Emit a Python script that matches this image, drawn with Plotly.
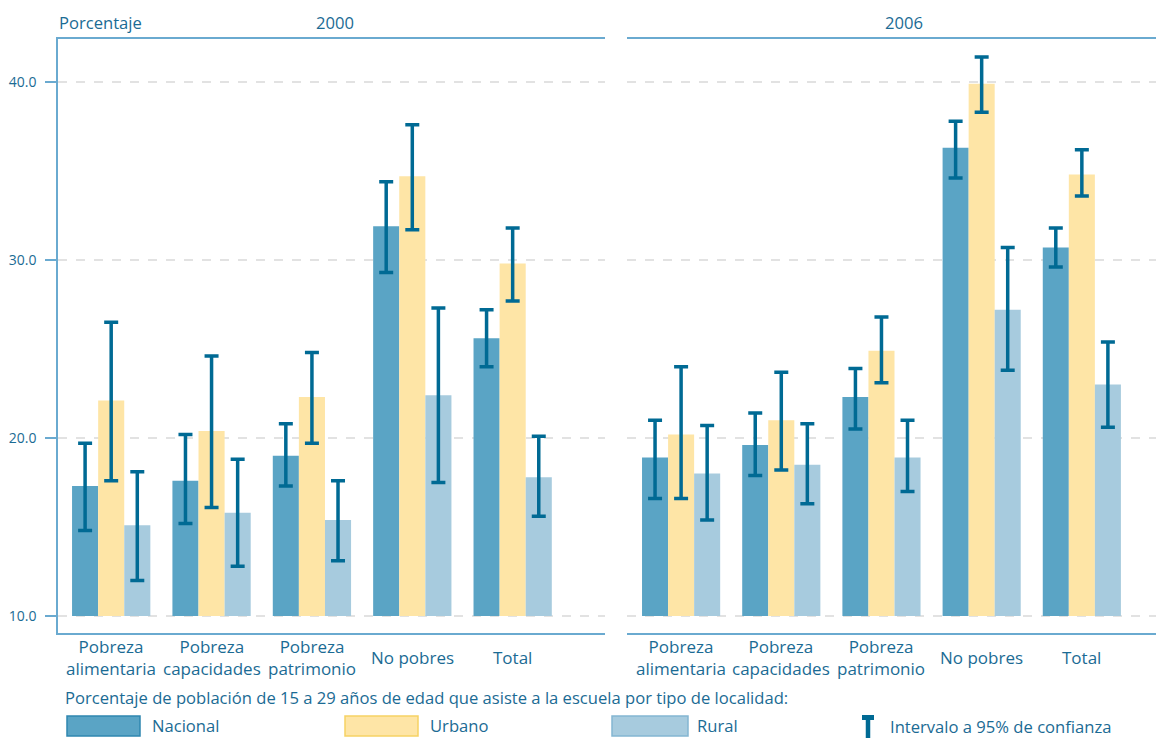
import plotly.graph_objects as go

# categorías y series (porcentaje, límites del intervalo a 95%)
CATEGORIAS = ["Pobreza<br>alimentaria", "Pobreza<br>capacidades", "Pobreza<br>patrimonio",
              "No pobres", "Total"]
PANELES = ["2000", "2006"]
SERIES = ["Nacional", "Urbano", "Rural"]

nacional_2000 = [17.3, 17.6, 19.0, 31.9, 25.6]
nacional_2000_inf = [14.8, 15.2, 17.3, 29.3, 24.0]
nacional_2000_sup = [19.7, 20.2, 20.8, 34.4, 27.2]
urbano_2000 = [22.1, 20.4, 22.3, 34.7, 29.8]
urbano_2000_inf = [17.6, 16.1, 19.7, 31.7, 27.7]
urbano_2000_sup = [26.5, 24.6, 24.8, 37.6, 31.8]
rural_2000 = [15.1, 15.8, 15.4, 22.4, 17.8]
rural_2000_inf = [12.0, 12.8, 13.1, 17.5, 15.6]
rural_2000_sup = [18.1, 18.8, 17.6, 27.3, 20.1]

nacional_2006 = [18.9, 19.6, 22.3, 36.3, 30.7]
nacional_2006_inf = [16.6, 17.9, 20.5, 34.6, 29.6]
nacional_2006_sup = [21.0, 21.4, 23.9, 37.8, 31.8]
urbano_2006 = [20.2, 21.0, 24.9, 39.9, 34.8]
urbano_2006_inf = [16.6, 18.2, 23.1, 38.3, 33.6]
urbano_2006_sup = [24.0, 23.7, 26.8, 41.4, 36.2]
rural_2006 = [18.0, 18.5, 18.9, 27.2, 23.0]
rural_2006_inf = [15.4, 16.3, 17.0, 23.8, 20.6]
rural_2006_sup = [20.7, 20.8, 21.0, 30.7, 25.4]

BASE = 10.0
TICKS_Y = [10, 20, 30, 40]

# la página deja 8 px de margen en el body: la figura se ajusta a eso
OFF = 8
W, H = 1164 - OFF, 738 - OFF
TEXTO = "#1b6b94"
EJE = "#6aaad0"
ERROR = "#006a94"
REJILLA = "#e2e2e2"
COLORES = {"Nacional": "#5aa4c5", "Urbano": "#fee5a6", "Rural": "#a7cbde"}
BORDES = {"Nacional": "#2f86b0", "Urbano": "#f6d264", "Rural": "#84b6d2"}
FUENTE = "Open Sans"


def px(x):
    return (x - OFF) / W


def py(y):
    return 1 - (y - OFF) / H


datos = {
    "2000": {
        "Nacional": (nacional_2000, nacional_2000_inf, nacional_2000_sup),
        "Urbano": (urbano_2000, urbano_2000_inf, urbano_2000_sup),
        "Rural": (rural_2000, rural_2000_inf, rural_2000_sup),
    },
    "2006": {
        "Nacional": (nacional_2006, nacional_2006_inf, nacional_2006_sup),
        "Urbano": (urbano_2006, urbano_2006_inf, urbano_2006_sup),
        "Rural": (rural_2006, rural_2006_inf, rural_2006_sup),
    },
}

fig = go.Figure()
ejes = {"2000": ("x", "y"), "2006": ("x2", "y2")}
pos = list(range(len(CATEGORIAS)))

for panel in PANELES:
    xa, ya = ejes[panel]
    for serie in SERIES:
        val, inf, sup = datos[panel][serie]
        fig.add_bar(
            x=pos, y=[v - BASE for v in val], base=BASE,
            xaxis=xa, yaxis=ya, name=serie, showlegend=False,
            marker=dict(color=COLORES[serie], line_width=0),
            error_y=dict(type="data", symmetric=False,
                         array=[s - v for s, v in zip(sup, val)],
                         arrayminus=[v - i for v, i in zip(val, inf)],
                         color=ERROR, thickness=3.5, width=7),
        )

eje_y = dict(domain=[py(633), py(39)], range=[BASE - 17 / 17.8, BASE + 577 / 17.8],
             tickvals=TICKS_Y, tickformat=".1f", showgrid=True, gridcolor=REJILLA,
             griddash="dash", gridwidth=1.5, zeroline=False,
             tickfont=dict(size=14, color=TEXTO, family=FUENTE))
eje_x = dict(showline=True, linecolor=EJE, linewidth=1.5, mirror=True,
             showticklabels=False, ticks="", showgrid=False, zeroline=False)

fig.update_layout(
    width=W, height=H,
    margin=dict(l=0, r=0, t=0, b=0),
    paper_bgcolor="white", plot_bgcolor="white",
    barmode="group", bargap=0.22, bargroupgap=0,
    font=dict(family=FUENTE, color=TEXTO),
    xaxis=dict(eje_x, domain=[px(58), px(605)], range=[-0.53, 4.92], anchor="y"),
    yaxis=dict(eje_y, anchor="x", showline=True, linecolor=EJE, linewidth=1.5,
               ticks="outside", ticklen=11, tickcolor=EJE, tickwidth=1.5,
               ticklabelstandoff=6),
    xaxis2=dict(eje_x, domain=[px(627), 1.0], range=[-0.54, 4.82], anchor="y2"),
    yaxis2=dict(eje_y, anchor="x2", showline=False, showticklabels=False, ticks=""),
)

anotaciones = []
for panel in PANELES:
    xa, _ = ejes[panel]
    for i, cat in enumerate(CATEGORIAS):
        anotaciones.append(dict(x=i, xref=xa, y=py(657), yref="paper", text=cat,
                                showarrow=False, font=dict(size=17), align="center"))

anotaciones += [
    dict(x=px(57), y=py(22), text="Porcentaje", xanchor="left"),
    dict(x=px(335), y=py(22), text="2000", xanchor="center"),
    dict(x=px(904), y=py(22), text="2006", xanchor="center"),
    dict(x=px(63), y=py(697), xanchor="left",
         text="Porcentaje de población de 15 a 29 años de edad que asiste a la escuela por tipo de localidad:"),
]

# leyenda dibujada a mano
leyenda = [("Nacional", 67, 140, 150), ("Urbano", 345, 418, 428), ("Rural", 612, 688, 695)]
formas = []
for serie, x0, x1, xt in leyenda:
    formas.append(dict(type="rect", xref="paper", yref="paper",
                       x0=px(x0), x1=px(x1), y0=py(736), y1=py(716),
                       fillcolor=COLORES[serie], line=dict(color=BORDES[serie], width=1.5)))
    anotaciones.append(dict(x=px(xt), y=py(725), text=serie, xanchor="left"))

formas.append(dict(type="line", xref="paper", yref="paper", x0=px(868), x1=px(868),
                   y0=py(738), y1=py(715), line=dict(color=ERROR, width=4.5)))
formas.append(dict(type="line", xref="paper", yref="paper", x0=px(862), x1=px(874),
                   y0=py(717.5), y1=py(717.5), line=dict(color=ERROR, width=5)))
anotaciones.append(dict(x=px(888), y=py(726), text="Intervalo a 95% de confianza", xanchor="left"))

for a in anotaciones:
    a.setdefault("xref", "paper")
    a.setdefault("yref", "paper")
    a.setdefault("showarrow", False)
    a.setdefault("yanchor", "middle")
    a.setdefault("font", dict(size=16.6))

fig.update_layout(annotations=anotaciones, shapes=formas)

fig.write_html("out.html")
